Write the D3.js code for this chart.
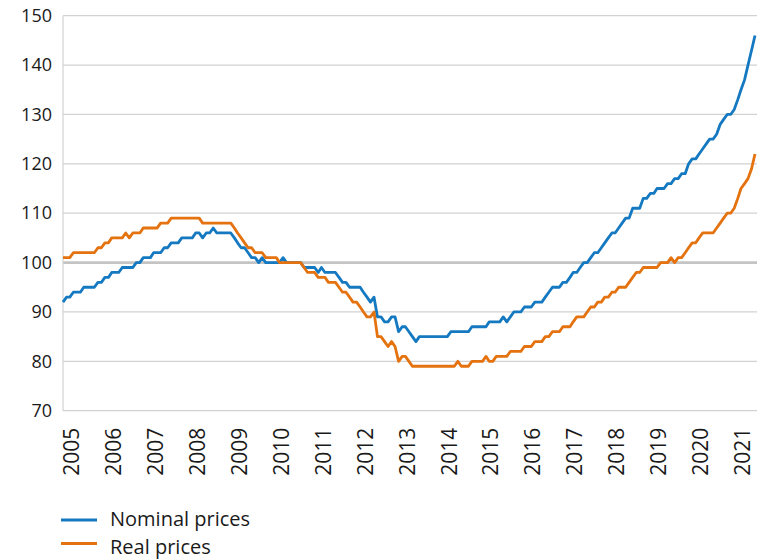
<!DOCTYPE html>
<html lang="en">

<head>
  <meta charset="UTF-8">
  <title>Nominal and real prices</title>
  <style>
    body { margin: 0; background: #fff; }
    text { font-family: "Open Sans", sans-serif; fill: #1a1a1a; }
  </style>
</head>

<body>
  <svg class="line-chart"></svg>
  <script src="https://cdn.jsdelivr.net/npm/d3@7"></script>
  <script>
    // monthly index values, Jan 2005 .. Jul 2021
    let nominal = [
      92, 93, 93, 94, 94, 94, 95, 95, 95, 95, 96, 96,
      97, 97, 98, 98, 98, 99, 99, 99, 99, 100, 100, 101,
      101, 101, 102, 102, 102, 103, 103, 104, 104, 104, 105, 105,
      105, 105, 106, 106, 105, 106, 106, 107, 106, 106, 106, 106,
      106, 105, 104, 103, 103, 102, 101, 101, 100, 101, 100, 100,
      100, 100, 100, 101, 100, 100, 100, 100, 100, 99, 99, 99,
      99, 98, 99, 98, 98, 98, 98, 97, 96, 96, 95, 95,
      95, 95, 94, 93, 92, 93, 89, 89, 88, 88, 89, 89,
      86, 87, 87, 86, 85, 84, 85, 85, 85, 85, 85, 85,
      85, 85, 85, 86, 86, 86, 86, 86, 86, 87, 87, 87,
      87, 87, 88, 88, 88, 88, 89, 88, 89, 90, 90, 90,
      91, 91, 91, 92, 92, 92, 93, 94, 95, 95, 95, 96,
      96, 97, 98, 98, 99, 100, 100, 101, 102, 102, 103, 104,
      105, 106, 106, 107, 108, 109, 109, 111, 111, 111, 113, 113,
      114, 114, 115, 115, 115, 116, 116, 117, 117, 118, 118, 120,
      121, 121, 122, 123, 124, 125, 125, 126, 128, 129, 130, 130,
      131, 133, 135, 137, 140, 143, 146
    ]
    let real = [
      101, 101, 101, 102, 102, 102, 102, 102, 102, 102, 103, 103,
      104, 104, 105, 105, 105, 105, 106, 105, 106, 106, 106, 107,
      107, 107, 107, 107, 108, 108, 108, 109, 109, 109, 109, 109,
      109, 109, 109, 109, 108, 108, 108, 108, 108, 108, 108, 108,
      108, 107, 106, 105, 104, 103, 103, 102, 102, 102, 101, 101,
      101, 101, 100, 100, 100, 100, 100, 100, 100, 99, 98, 98,
      98, 97, 97, 97, 96, 96, 96, 95, 94, 94, 93, 92,
      92, 91, 90, 89, 89, 90, 85, 85, 84, 83, 84, 83,
      80, 81, 81, 80, 79, 79, 79, 79, 79, 79, 79, 79,
      79, 79, 79, 79, 79, 80, 79, 79, 79, 80, 80, 80,
      80, 81, 80, 80, 81, 81, 81, 81, 82, 82, 82, 82,
      83, 83, 83, 84, 84, 84, 85, 85, 86, 86, 86, 87,
      87, 87, 88, 89, 89, 89, 90, 91, 91, 92, 92, 93,
      93, 94, 94, 95, 95, 95, 96, 97, 98, 98, 99, 99,
      99, 99, 99, 100, 100, 100, 101, 100, 101, 101, 102, 103,
      104, 104, 105, 106, 106, 106, 106, 107, 108, 109, 110, 110,
      111, 113, 115, 116, 117, 119, 122
    ]
    let years = d3.range(2005, 2022)
    let yTicks = [70, 80, 90, 100, 110, 120, 130, 140, 150]
    let seriesNames = ['Nominal prices', 'Real prices']
    let colors = ['#1479c0', '#e4720f']

    let svgWidth = 764, svgHeight = 559
    let plotLeft = 63, plotRight = 757, plotTop = 15.7, plotBottom = 410.7

    let svg = d3.select('svg')
      .attr('width', svgWidth)
      .attr('height', svgHeight)

    let dates = nominal.map((d, i) => new Date(2005, i, 1))
    let x = d3.scaleTime()
      .domain([new Date(2005, 0, 1), new Date(2021, 6, 1)])
      .range([plotLeft, 755])
    let y = d3.scaleLinear()
      .domain([70, 150])
      .range([plotBottom, plotTop])

    // gridlines
    svg.append('g')
      .selectAll('line')
      .data(yTicks)
      .enter()
      .append('line')
      .attr('x1', plotLeft)
      .attr('x2', plotRight)
      .attr('y1', d => y(d))
      .attr('y2', d => y(d))
      .attr('stroke', d => d === 100 ? '#c4c4c4' : '#d2d2d2')
      .attr('stroke-width', d => d === 100 ? 2.6 : 1.2)

    svg.append('line')
      .attr('x1', plotLeft).attr('x2', plotLeft)
      .attr('y1', plotTop).attr('y2', plotBottom)
      .attr('stroke', '#d2d2d2')
      .attr('stroke-width', 1.2)

    // y axis
    let yAxis = svg.append('g')
      .attr('transform', `translate(${plotLeft},0)`)
      .call(d3.axisLeft(y).tickValues(yTicks).tickSize(0).tickPadding(11))
    yAxis.select('.domain').remove()
    yAxis.selectAll('text')
      .attr('font-family', '"Open Sans", sans-serif')
      .attr('font-size', 18)
      .attr('fill', '#1a1a1a')

    // x axis, rotated year labels
    let xAxis = svg.append('g')
      .attr('transform', `translate(0,${plotBottom})`)
      .call(d3.axisBottom(x)
        .tickValues(years.map(yr => new Date(yr, 0, 1)))
        .tickFormat(d3.timeFormat('%Y'))
        .tickSize(0))
    xAxis.select('.domain').remove()
    xAxis.selectAll('text')
      .attr('font-family', '"Open Sans", sans-serif')
      .attr('font-size', 21)
      .attr('fill', '#1a1a1a')
      .attr('text-anchor', 'end')
      .attr('dy', null)
      .attr('y', 0)
      .attr('transform', 'translate(15.5,17) rotate(-90)')

    // lines
    let line = d3.line()
      .x((d, i) => x(dates[i]))
      .y(d => y(d))

    ;[nominal, real].forEach((s, k) => {
      svg.append('path')
        .datum(s)
        .attr('d', line)
        .attr('fill', 'none')
        .attr('stroke', colors[k])
        .attr('stroke-width', 2.8)
        .attr('stroke-linejoin', 'round')
    })

    // legend
    let legend = svg.append('g')
      .selectAll('g')
      .data(seriesNames)
      .enter()
      .append('g')
      .attr('transform', (d, i) => `translate(61,${[520, 543.5][i]})`)

    legend.append('line')
      .attr('x1', 0).attr('x2', 36)
      .attr('stroke', (d, i) => colors[i])
      .attr('stroke-width', 2.8)

    legend.append('text')
      .attr('x', 49)
      .attr('y', (d, i) => [6, 10][i])
      .attr('font-size', 20)
      .text(d => d)
  </script>
</body>

</html>
